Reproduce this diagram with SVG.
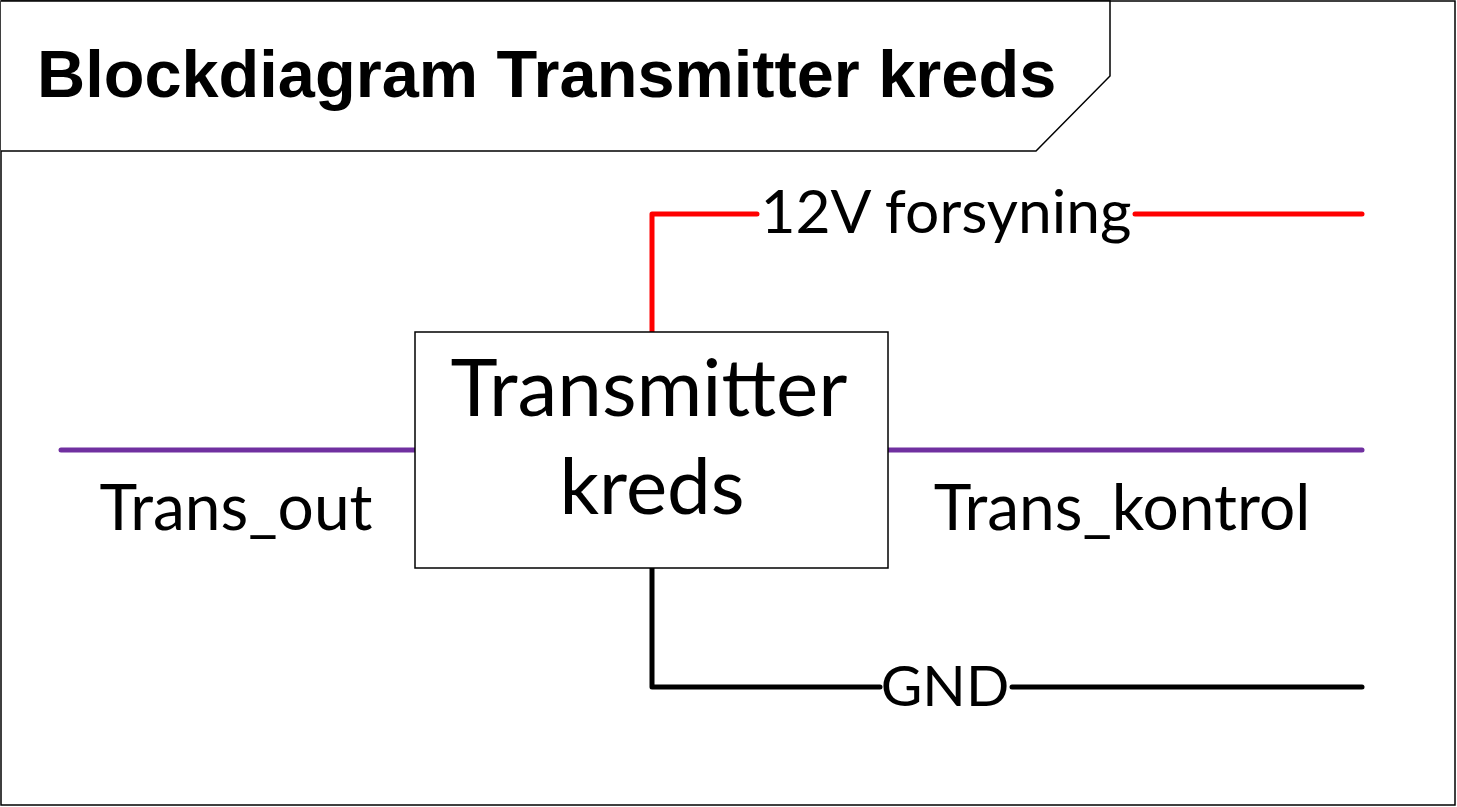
<svg xmlns="http://www.w3.org/2000/svg" width="1457" height="807" viewBox="0 0 1457 807">
<style>
.frame{fill:#fff;stroke:#000;stroke-width:1.5}
.lbl{font-family:Lato,"Noto Sans",sans-serif;font-size:64px;fill:#000;text-anchor:middle}
.big{font-family:Lato,"Noto Sans",sans-serif;font-size:80px;fill:#000;text-anchor:middle}
.title{font-family:"Liberation Sans",Arial,sans-serif;font-weight:bold;font-size:66.7px;fill:#000}
.w{fill:none;stroke-width:5;stroke-linecap:round;stroke-linejoin:round}
</style>
<rect width="1457" height="807" fill="#fff"/>
<g id="frame">
<rect class="frame" x="1" y="1" width="1454" height="804"/>
<path class="frame" d="M1,1 H1110 V76 L1036,151 H1"/>
<text class="title" x="37" y="97">Blockdiagram Transmitter kreds</text>
</g>
<g id="connectors">
<path class="w" stroke="#FF0000" d="M652,332 V214 H757"/>
<path class="w" stroke="#FF0000" d="M1135,214 H1362"/>
<path class="w" stroke="#7030A0" d="M61,450 H416"/>
<path class="w" stroke="#7030A0" d="M888,450 H1362"/>
<path class="w" stroke="#000" d="M652,568 V687 H880"/>
<path class="w" stroke="#000" d="M1012,687 H1362"/>
<text class="lbl" x="946" y="233" style="font-size:60.5px">12V forsyning</text>
<text class="lbl" x="236" y="530">Trans_out</text>
<text class="lbl" x="1122" y="530">Trans_kontrol</text>
<text class="lbl" x="945" y="706" style="font-size:57px">GND</text>
</g>
<g id="node-transmitter">
<rect class="frame" x="415" y="332" width="473" height="236"/>
<text class="big" x="649" y="416">Transmitter</text>
<text class="big" x="652" y="514" style="font-size:78px">kreds</text>
</g>
</svg>
